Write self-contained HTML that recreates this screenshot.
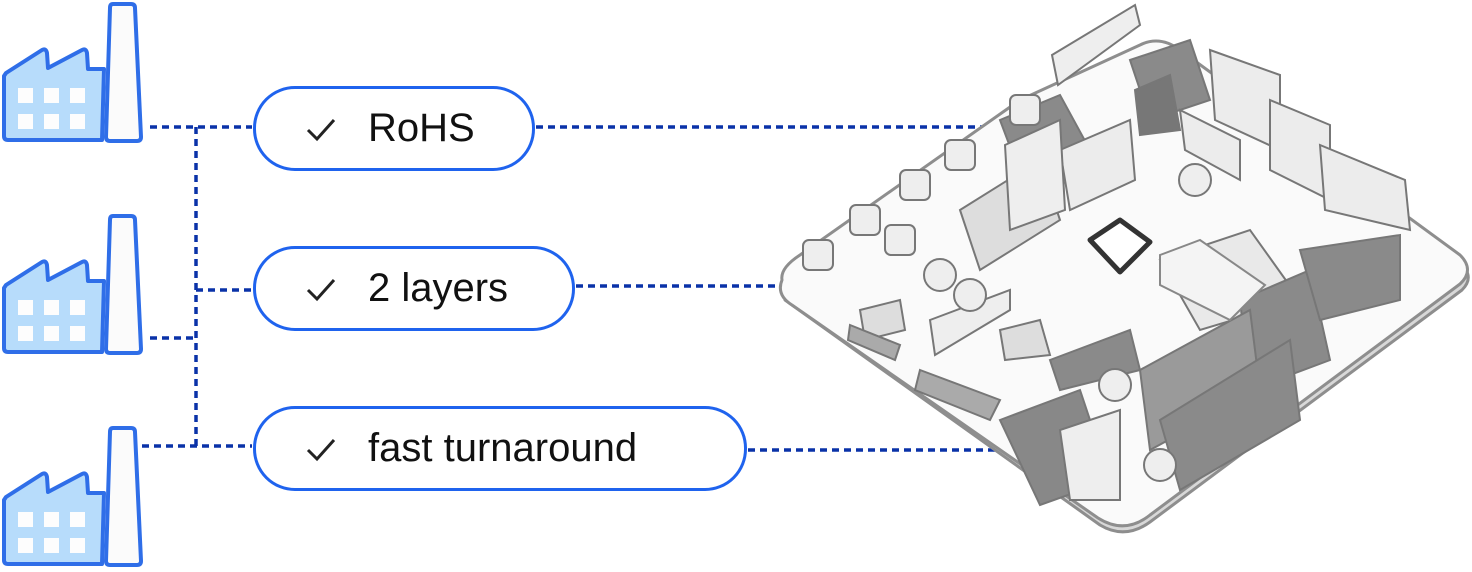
<!DOCTYPE html>
<html><head><style>
body{margin:0;width:1472px;height:572px;background:#fff;overflow:hidden;position:relative;font-family:"Liberation Sans",sans-serif}
.pill{position:absolute;border:3px solid #1f63ee;border-radius:42px;box-sizing:border-box;background:#fff;font-size:40px;color:#111;display:flex;align-items:center}
.pill svg{position:absolute;left:50px;top:28px}
</style></head><body>
<svg width="1472" height="572" style="position:absolute;left:0;top:0">
<defs>
<g id="fac">
<path d="M6,73 L42,50 Q46,48 47,53 L48,68 L82,50 Q86,48 87,53 L88,69 L104,69 L102,140 L8,140 Q4,140 4,136 L4,76 Z" fill="#b7dcfb" stroke="#2f6ee8" stroke-width="4" stroke-linejoin="round"/>
<path d="M113,4 L131,4 Q135,4 135,8 L141,137 Q141,141 137,141 L110,141 Q106,141 106,137 L110,8 Q110,4 113,4 Z" fill="#fbfbfb" stroke="#2f6ee8" stroke-width="4" stroke-linejoin="round"/>
<g fill="#fdfdfd"><rect x="18" y="88" width="15" height="15"/><rect x="44" y="88" width="15" height="15"/><rect x="70" y="88" width="15" height="15"/><rect x="18" y="114" width="15" height="15"/><rect x="44" y="114" width="15" height="15"/><rect x="70" y="114" width="15" height="15"/></g>
</g>
</defs>
<use href="#fac" x="0" y="0"/>
<use href="#fac" x="0" y="212"/>
<use href="#fac" x="0" y="424"/>
<g stroke="#0a32a8" stroke-width="3.5" stroke-dasharray="7,5" fill="none">
<path d="M150,127 H252"/><path d="M196,127 V446"/><path d="M150,338 H196"/><path d="M196,290 H252"/><path d="M142,446 H252"/>
<path d="M536,127 H1000"/><path d="M576,286 H778"/><path d="M748,450 H1000"/>
</g>
<!-- PCB -->
<g stroke="#8e8e8e" stroke-width="3" stroke-linejoin="round">
<path d="M785,300 L1100,525 Q1125,540 1150,522 L1462,290 Q1472,280 1466,270 L1462,278 L1150,512 Q1125,530 1100,514 L785,290 Z" fill="#d8d8d8"/>
<path d="M782,280 Q776,295 792,305 L1098,518 Q1125,535 1150,515 L1460,284 Q1475,270 1460,255 L1180,50 Q1160,35 1140,45 L1020,100 L800,255 Q780,268 782,280 Z" fill="#fafafa"/>
</g>
<g fill="#8a8a8a" stroke="#777" stroke-width="2">
<path d="M1052,55 L1135,5 L1140,25 L1058,85 Z" fill="#eee"/>
<path d="M1000,120 L1060,95 L1090,150 L1030,200 Z"/>
<path d="M1060,150 L1130,120 L1135,180 L1070,210 Z" fill="#ececec"/>
<path d="M1130,60 L1190,40 L1210,100 L1150,120 Z"/>
<path d="M1135,90 L1170,75 L1180,130 L1140,135 Z" fill="#777"/>
<path d="M1210,50 L1280,75 L1280,150 L1215,120 Z" fill="#ececec"/>
<path d="M1270,100 L1330,125 L1330,200 L1270,170 Z" fill="#ececec"/>
<path d="M1320,145 L1405,180 L1410,230 L1325,210 Z" fill="#ececec"/>
<path d="M1180,110 L1240,140 L1240,180 L1185,150 Z" fill="#ececec"/>
<path d="M960,210 L1040,160 L1060,220 L980,270 Z" fill="#ddd"/>
<path d="M1005,145 L1060,120 L1065,210 L1010,230 Z" fill="#eee"/>
<path d="M1160,260 L1250,230 L1300,300 L1200,330 Z" fill="#e9e9e9"/>
<path d="M1240,300 L1310,270 L1330,360 L1250,390 Z"/>
<path d="M1300,250 L1400,235 L1400,300 L1320,320 Z"/>
<path d="M1140,370 L1250,310 L1260,390 L1150,450 Z" fill="#9a9a9a"/>
<path d="M1160,420 L1290,340 L1300,420 L1180,490 Z"/>
<path d="M1000,420 L1080,390 L1110,480 L1040,505 Z" fill="#888"/>
<path d="M1060,430 L1120,410 L1120,500 L1070,500 Z" fill="#eee"/>
<path d="M930,320 L1010,290 L1010,310 L935,355 Z" fill="#eee"/>
<path d="M860,310 L900,300 L905,330 L865,340 Z" fill="#ddd"/>
<path d="M1000,330 L1040,320 L1050,355 L1005,360 Z" fill="#ddd"/>
<path d="M1050,360 L1130,330 L1140,370 L1060,390 Z"/>
<path d="M920,370 L1000,400 L990,420 L915,390 Z" fill="#aaa"/>
<path d="M850,325 L900,345 L895,360 L848,340 Z" fill="#aaa"/>
</g>
<g fill="#eee" stroke="#777" stroke-width="2">
<rect x="1010" y="95" width="30" height="30" rx="6"/><rect x="945" y="140" width="30" height="30" rx="6"/><rect x="900" y="170" width="30" height="30" rx="6"/><rect x="850" y="205" width="30" height="30" rx="6"/><rect x="885" y="225" width="30" height="30" rx="6"/><rect x="803" y="240" width="30" height="30" rx="6"/>
<circle cx="940" cy="275" r="16"/><circle cx="970" cy="295" r="16"/><circle cx="1195" cy="180" r="16"/><circle cx="1115" cy="385" r="16"/><circle cx="1160" cy="465" r="16"/>
</g>
<path d="M1090,240 L1120,220 L1150,242 L1120,272 Z" fill="#fff" stroke="#333" stroke-width="5" stroke-linejoin="round"/>
<path d="M1160,255 L1200,240 L1265,285 L1230,320 L1160,285 Z" fill="#f4f4f4" stroke="#888" stroke-width="2"/>
</svg>
<div class="pill" style="left:253px;top:86px;width:282px;height:85px;padding-left:112px">RoHS<svg width="30" height="26"><path d="M2,13 L11,22 L28,3" fill="none" stroke="#222" stroke-width="3"/></svg></div>
<div class="pill" style="left:253px;top:246px;width:322px;height:85px;padding-left:112px">2 layers<svg width="30" height="26"><path d="M2,13 L11,22 L28,3" fill="none" stroke="#222" stroke-width="3"/></svg></div>
<div class="pill" style="left:253px;top:406px;width:494px;height:85px;padding-left:112px">fast turnaround<svg width="30" height="26"><path d="M2,13 L11,22 L28,3" fill="none" stroke="#222" stroke-width="3"/></svg></div>
</body></html>
